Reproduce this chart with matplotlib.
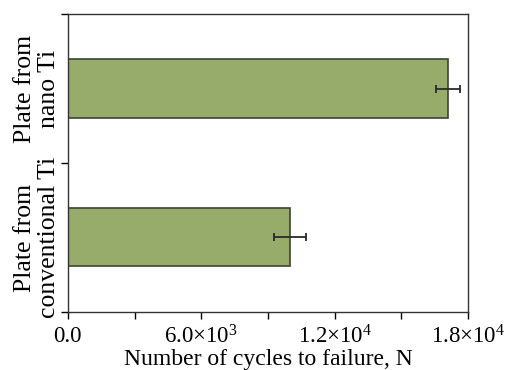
import matplotlib
matplotlib.use('Agg')
import matplotlib.pyplot as plt
from matplotlib.ticker import FixedLocator

plt.rcParams['font.family'] = ['Liberation Serif', 'DejaVu Serif']
plt.rcParams['mathtext.default'] = 'regular'

# data
categories = ['Plate from\nconventional Ti', 'Plate from\nnano Ti']
cycles = [10000, 17100]
errors = [720, 530]
xtick_values = [0, 6000, 12000, 18000]
xtick_labels = ['0.0', '6.0×10$^3$', '1.2×10$^4$', '1.8×10$^4$']

fig = plt.figure(figsize=(5.1, 3.7), dpi=100)
ax = fig.add_axes([0.133, 0.157, 0.785, 0.805])

ypos = [0.5, 1.5]
ax.barh(ypos, cycles, height=0.39, color='#97ab6a', edgecolor='#3d4433', linewidth=1.2)
ax.errorbar(cycles, ypos, xerr=errors, fmt='none', ecolor='#2a2a2a',
            elinewidth=1.3, capsize=3, capthick=1.3)

ax.set_xlim(0, 18000)
ax.set_ylim(0, 2)

ax.set_xticks(xtick_values)
ax.set_xticklabels(xtick_labels, fontsize=16.5)
ax.xaxis.set_minor_locator(FixedLocator([3000, 9000, 15000]))
ax.tick_params(axis='x', which='both', direction='out', length=5, width=1, pad=5)

ax.set_yticks([0, 1, 2])
ax.set_yticklabels([])
ax.tick_params(axis='y', which='major', direction='out', length=5, width=1)
ax.set_yticks(ypos, minor=True)
ax.set_yticklabels(categories, minor=True, rotation=90, va='center',
                   ha='center', multialignment='center', fontsize=18.5,
                   linespacing=1.1)
ax.tick_params(axis='y', which='minor', length=0, pad=22)

ax.set_xlabel('Number of cycles to failure, N', fontsize=17, labelpad=0)

for s in ax.spines.values():
    s.set_color('#333333')
    s.set_linewidth(1)

fig.savefig('out.png', dpi=100)
